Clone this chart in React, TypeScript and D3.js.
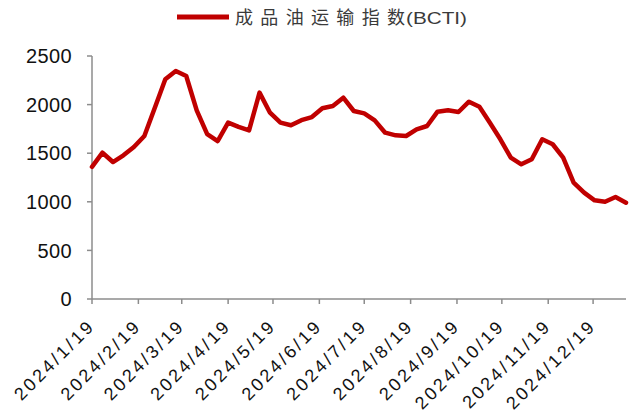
import React from 'react';
import * as d3 from 'd3';

// weekly BCTI readings (Fridays)
const dates = [
  '2024-01-19', '2024-01-26', '2024-02-02', '2024-02-09', '2024-02-16', '2024-02-23',
  '2024-03-01', '2024-03-08', '2024-03-15', '2024-03-22', '2024-03-29',
  '2024-04-05', '2024-04-12', '2024-04-19', '2024-04-26',
  '2024-05-03', '2024-05-10', '2024-05-17', '2024-05-24', '2024-05-31',
  '2024-06-07', '2024-06-14', '2024-06-21', '2024-06-28',
  '2024-07-05', '2024-07-12', '2024-07-19', '2024-07-26',
  '2024-08-02', '2024-08-09', '2024-08-16', '2024-08-23', '2024-08-30',
  '2024-09-06', '2024-09-13', '2024-09-20', '2024-09-27',
  '2024-10-04', '2024-10-11', '2024-10-18', '2024-10-25',
  '2024-11-01', '2024-11-08', '2024-11-15', '2024-11-22', '2024-11-29',
  '2024-12-06', '2024-12-13', '2024-12-20', '2024-12-27',
  '2025-01-03', '2025-01-10',
];

const bcti = [
  1360, 1505, 1409, 1478, 1563, 1677, 1968, 2260, 2345, 2294,
  1940, 1697, 1625, 1814, 1770, 1735, 2123, 1917, 1814, 1787,
  1840, 1872, 1962, 1985, 2071, 1934, 1910, 1838, 1711, 1684,
  1677, 1746, 1780, 1927, 1941, 1924, 2030, 1978, 1814, 1643,
  1454, 1386, 1437, 1643, 1592, 1454, 1197, 1094, 1015, 1001,
  1049, 991,
];

const tickDates = [
  '2024-01-19', '2024-02-19', '2024-03-19', '2024-04-19', '2024-05-19', '2024-06-19',
  '2024-07-19', '2024-08-19', '2024-09-19', '2024-10-19', '2024-11-19', '2024-12-19',
];
const tickLabels = [
  '2024/1/19', '2024/2/19', '2024/3/19', '2024/4/19', '2024/5/19', '2024/6/19',
  '2024/7/19', '2024/8/19', '2024/9/19', '2024/10/19', '2024/11/19', '2024/12/19',
];
const yTicks = [0, 500, 1000, 1500, 2000, 2500];

const seriesName = '成品油运输指数';
const seriesCode = '(BCTI)';

const width = 632;
const height = 419;
const margin = { top: 56, right: 6, bottom: 120, left: 92 };
const axisColor = '#8c8c8c';
const lineColor = '#c00000';

const parse = d3.timeParse('%Y-%m-%d');

const App: React.FC = () => {
  const x = d3.scaleTime()
    .domain([parse(dates[0])!, parse(dates[dates.length - 1])!])
    .range([margin.left, width - margin.right]);

  const y = d3.scaleLinear()
    .domain([0, 2500])
    .range([height - margin.bottom, margin.top]);

  const points = dates.map((d, i) => ({ date: parse(d)!, value: bcti[i] }));

  const line = d3.line<{ date: Date; value: number }>()
    .x(d => x(d.date))
    .y(d => y(d.value));

  const y0 = y(0);

  return (
    <svg width={width} height={height} style={{ position: 'absolute', left: 0, top: 0, background: '#fff' }}>
      {/* legend */}
      <line x1={177} x2={229} y1={17} y2={17} stroke={lineColor} strokeWidth={5} />
      <text x={235} y={24} fontFamily="'Noto Sans CJK SC', sans-serif" fontSize={18} fill="#3a3a3a">
        <tspan textLength={170} lengthAdjust="spacing">{seriesName}</tspan>
        <tspan x={406} y={24} textLength={61} lengthAdjust="spacingAndGlyphs"
          fontFamily="'Liberation Sans', sans-serif" fontSize={17}>{seriesCode}</tspan>
      </text>

      {/* y axis */}
      <line x1={margin.left} x2={margin.left} y1={y(2500)} y2={y0} stroke={axisColor} strokeWidth={1.5} />
      {yTicks.map(t => (
        <g key={t}>
          <line x1={margin.left - 5} x2={margin.left} y1={y(t)} y2={y(t)} stroke={axisColor} strokeWidth={1.5} />
          <text x={72} y={y(t)} dy="0.36em" textAnchor="end" fontFamily="'Liberation Sans', Arial, sans-serif"
            fontSize={20} letterSpacing={0.4} fill="#111">{t}</text>
        </g>
      ))}

      {/* x axis */}
      <line x1={margin.left} x2={width - margin.right} y1={y0} y2={y0} stroke={axisColor} strokeWidth={1.5} />
      {tickDates.map((d, i) => {
        const tx = x(parse(d)!);
        return (
          <g key={d}>
            <line x1={tx} x2={tx} y1={y0} y2={y0 + 5} stroke={axisColor} strokeWidth={1.5} />
            <text transform={`translate(${tx + 4},${y0 + 28}) rotate(-45)`} textAnchor="end"
              fontFamily="'Liberation Sans', Arial, sans-serif" fontSize={18} letterSpacing={2.8} fill="#111">
              {tickLabels[i]}
            </text>
          </g>
        );
      })}

      {/* series */}
      <path d={line(points) ?? ''} fill="none" stroke={lineColor} strokeWidth={4.5} strokeLinejoin="round" strokeLinecap="round" />
    </svg>
  );
};

export default App;
